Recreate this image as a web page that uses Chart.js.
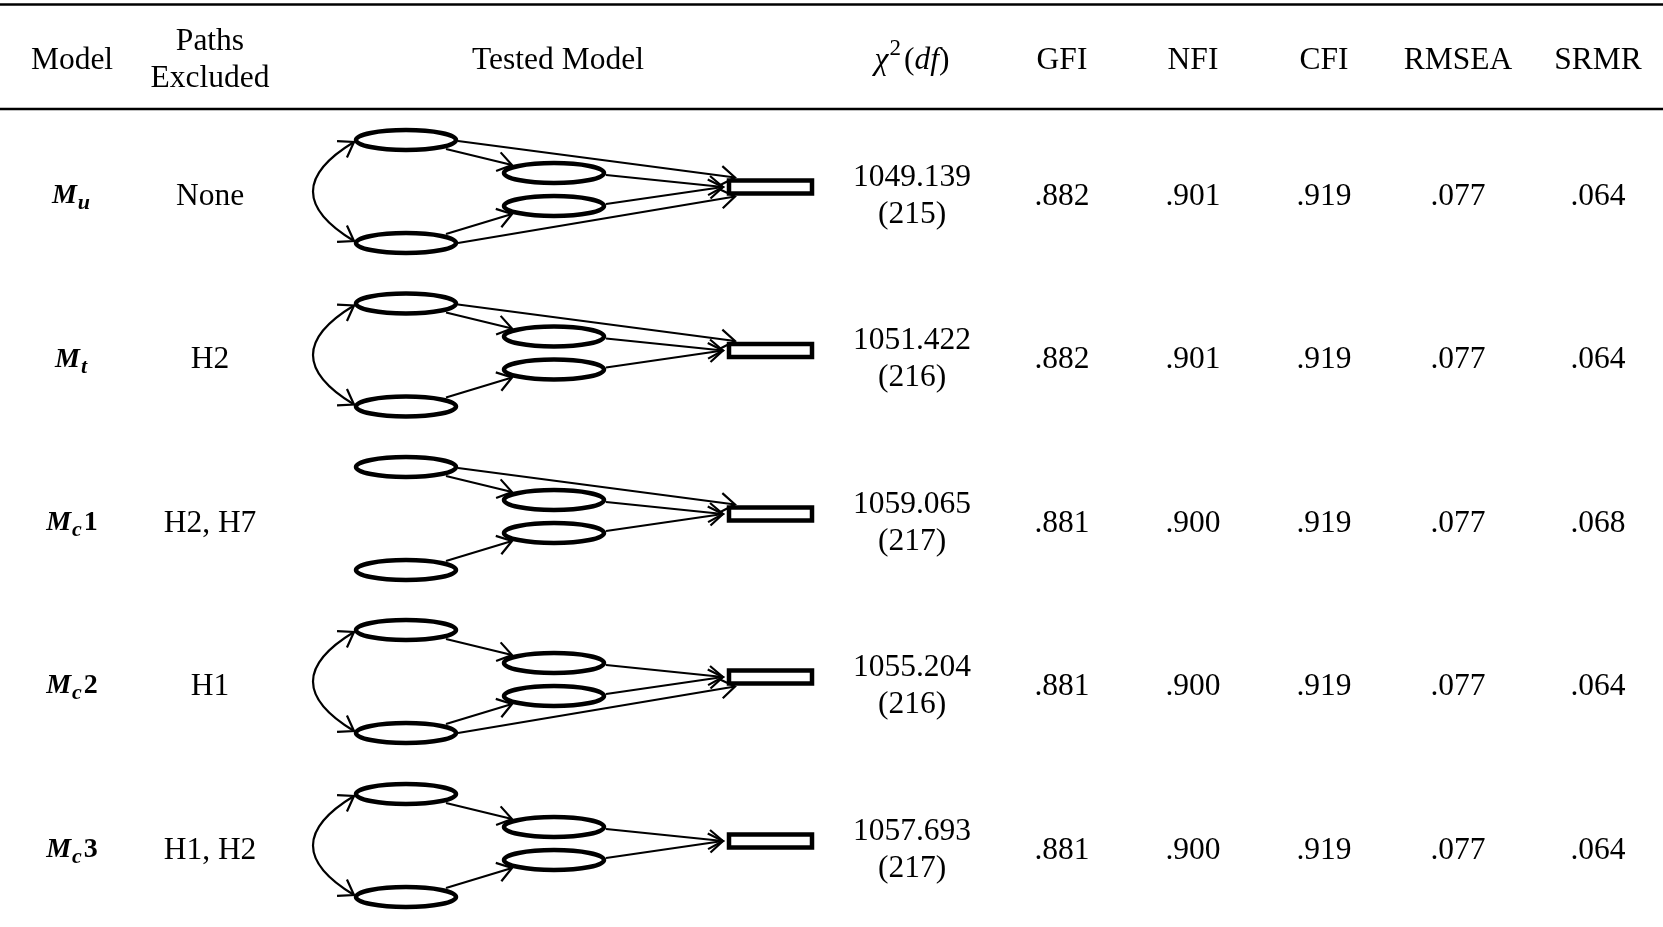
<!DOCTYPE html>
<html>
<head>
<meta charset="utf-8">
<script src="https://cdn.jsdelivr.net/npm/chart.js@4.4.1/dist/chart.umd.min.js"></script>
<style>
  html, body { margin: 0; padding: 0; background: #fff; }
  #wrap { width: 1663px; height: 927px; }
</style>
</head>
<body>
<div id="wrap"><canvas id="fitTable" width="1663" height="927"></canvas></div>
<script>
// table data
const modelSub = ["u", "t", "c", "c", "c"];
const modelNum = ["", "", "1", "2", "3"];
const pathsExcluded = ["None", "H2", "H2, H7", "H1", "H1, H2"];
const chiSq = ["1049.139", "1051.422", "1059.065", "1055.204", "1057.693"];
const dfs = ["215", "216", "217", "216", "217"];
const gfi = [".882", ".882", ".881", ".881", ".881"];
const nfi = [".901", ".901", ".900", ".900", ".900"];
const cfi = [".919", ".919", ".919", ".919", ".919"];
const rmsea = [".077", ".077", ".077", ".077", ".077"];
const srmr = [".064", ".064", ".068", ".064", ".064"];
const fitCols = ["GFI", "NFI", "CFI", "RMSEA", "SRMR"];

// tested model paths (A, B = left latents, C, D = mediators, Y = outcome)
const modelPaths = [
  { from: "A", to: "C" },
  { from: "B", to: "D" },
  { from: "C", to: "Y" },
  { from: "D", to: "Y" },
  { from: "A", to: "Y", hyp: "H1" },
  { from: "B", to: "Y", hyp: "H2" },
  { from: "A", to: "B", hyp: "H7", cov: true },
];

// layout (x/y in chart units)
const colX = { model: 72, paths: 210, tested: 558, chi: 912, GFI: 1062, NFI: 1193, CFI: 1324, RMSEA: 1458, SRMR: 1598 };
const rowY = [194, 357.5, 521, 684, 848];
const nodePos = { A: [406, -54], B: [406, 49], C: [554, -21], D: [554, 12] };
const FONT = "'Liberation Serif', 'Times New Roman', serif";
const FS = 31.5;

function arrowHead(ctx, tx, ty, fx, fy) {
  const a = Math.atan2(ty - fy, tx - fx);
  const len = 17, ang = 0.6;
  ctx.beginPath();
  ctx.moveTo(tx - len * Math.cos(a - ang), ty - len * Math.sin(a - ang));
  ctx.lineTo(tx, ty);
  ctx.lineTo(tx - len * Math.cos(a + ang), ty - len * Math.sin(a + ang));
  ctx.stroke();
}

function line(ctx, x1, y1, x2, y2) {
  ctx.beginPath();
  ctx.moveTo(x1, y1);
  ctx.lineTo(x2, y2);
  ctx.stroke();
}

const tablePlugin = {
  id: "tablePlugin",
  afterDraw(chart) {
    const ctx = chart.ctx;
    const X = (v) => chart.scales.x.getPixelForValue(v);
    const Y = (v) => chart.scales.y.getPixelForValue(v);
    ctx.save();
    ctx.fillStyle = "#000";
    ctx.strokeStyle = "#000";

    // rules
    ctx.lineWidth = 2.5;
    line(ctx, X(0), Y(4.5), X(1663), Y(4.5));
    line(ctx, X(0), Y(109), X(1663), Y(109));

    // header
    ctx.textAlign = "center";
    ctx.textBaseline = "alphabetic";
    ctx.font = FS + "px " + FONT;
    ctx.fillText("Model", X(colX.model), Y(69));
    ctx.fillText("Paths", X(colX.paths), Y(50));
    ctx.fillText("Excluded", X(colX.paths), Y(87));
    ctx.fillText("Tested Model", X(colX.tested), Y(69));
    fitCols.forEach((c) => ctx.fillText(c, X(colX[c]), Y(69)));

    // chi-square header with italic parts
    const parts = [
      { t: "\u03c7", f: "italic " + FS + "px " + FONT, dy: 0 },
      { t: "2", f: "23px " + FONT, dy: -14 },
      { t: "(", f: FS + "px " + FONT, dy: 0 },
      { t: "df", f: "italic " + FS + "px " + FONT, dy: 0 },
      { t: ")", f: FS + "px " + FONT, dy: 0 },
    ];
    let w = 0;
    parts.forEach((p) => { ctx.font = p.f; p.w = ctx.measureText(p.t).width; w += p.w + (p.t === "(" ? 3 : 0) + (p.t === "2" ? 1 : 0); });
    let px = X(colX.chi) - w / 2;
    ctx.textAlign = "left";
    parts.forEach((p) => {
      if (p.t === "(") px += 3;
      if (p.t === "2") px += 1;
      ctx.font = p.f;
      ctx.fillText(p.t, px, Y(69 + p.dy));
      px += p.w;
    });

    rowY.forEach((ry, i) => {
      // model label: bold italic M with subscript
      const mFont = "bold italic 28px " + FONT;
      const sFont = "bold italic 22px " + FONT;
      const nFont = "bold 28px " + FONT;
      ctx.font = mFont; const wM = ctx.measureText("M").width;
      ctx.font = sFont; const wS = ctx.measureText(modelSub[i]).width;
      ctx.font = nFont; const wN = ctx.measureText(modelNum[i]).width;
      let lx = X(colX.model) - (wM + wS + wN + 3) / 2;
      ctx.textAlign = "left";
      ctx.font = mFont; ctx.fillText("M", lx, Y(ry + 9)); lx += wM + 1;
      ctx.font = sFont; ctx.fillText(modelSub[i], lx, Y(ry + 15)); lx += wS + 2;
      ctx.font = nFont; ctx.fillText(modelNum[i], lx, Y(ry + 9));

      // text columns
      ctx.textAlign = "center";
      ctx.font = FS + "px " + FONT;
      ctx.fillText(pathsExcluded[i], X(colX.paths), Y(ry + 10.5));
      ctx.fillText(chiSq[i], X(colX.chi), Y(ry - 8.5));
      ctx.fillText("(" + dfs[i] + ")", X(colX.chi), Y(ry + 28.5));
      ctx.fillText(gfi[i], X(colX.GFI), Y(ry + 10.5));
      ctx.fillText(nfi[i], X(colX.NFI), Y(ry + 10.5));
      ctx.fillText(cfi[i], X(colX.CFI), Y(ry + 10.5));
      ctx.fillText(rmsea[i], X(colX.RMSEA), Y(ry + 10.5));
      ctx.fillText(srmr[i], X(colX.SRMR), Y(ry + 10.5));

      // diagram
      const excl = pathsExcluded[i].split(",").map((s) => s.trim());
      const P = {};
      Object.keys(nodePos).forEach((k) => { P[k] = { x: X(nodePos[k][0]), y: Y(ry + nodePos[k][1]) }; });
      const rL = X(729), rR = X(812), rT = Y(ry - 7 - 6.5), rB = Y(ry - 7 + 6.5), rC = Y(ry - 7);

      ctx.lineWidth = 2.2;
      modelPaths.forEach((p) => {
        if (p.hyp && excl.includes(p.hyp)) return;
        const a = P[p.from];
        let sx, sy, ex, ey;
        if (p.cov) {
          const b = P[p.to];
          const x0 = a.x - 52, y0 = a.y + 2, x2 = b.x - 52, y2 = b.y - 2;
          const cx = x0 - 82, cy = (y0 + y2) / 2;
          ctx.beginPath();
          ctx.moveTo(x0, y0);
          ctx.quadraticCurveTo(cx, cy, x2, y2);
          ctx.stroke();
          arrowHead(ctx, x0, y0, cx, cy);
          arrowHead(ctx, x2, y2, cx, cy);
          return;
        }
        if (p.to === "Y") {
          sx = a.x + 52;
          if (p.from === "A") { sy = a.y + 1; ex = rL + 6; ey = rT - 3; }
          else if (p.from === "B") { sy = a.y; ex = rL + 6; ey = rB + 3; }
          else if (p.from === "C") { sy = a.y + 2; ex = rL - 6; ey = rC; }
          else { sy = a.y - 2; ex = rL - 6; ey = rC; }
        } else {
          const b = P[p.to];
          sx = a.x + 40;
          sy = p.from === "A" ? a.y + 9 : a.y - 9;
          ex = b.x - 42;
          ey = p.from === "A" ? b.y - 8 : b.y + 8;
        }
        line(ctx, sx, sy, ex, ey);
        arrowHead(ctx, ex, ey, sx, sy);
      });

      // latent ellipses
      ctx.lineWidth = 4.5;
      Object.keys(P).forEach((k) => {
        ctx.beginPath();
        ctx.ellipse(P[k].x, P[k].y, 50, 10, 0, 0, Math.PI * 2);
        ctx.fillStyle = "#fff";
        ctx.fill();
        ctx.stroke();
      });
      // outcome rectangle
      ctx.lineWidth = 4.5;
      ctx.fillStyle = "#fff";
      ctx.fillRect(rL, rT, rR - rL, rB - rT);
      ctx.strokeRect(rL, rT, rR - rL, rB - rT);
      ctx.fillStyle = "#000";
    });
    ctx.restore();
  },
};

new Chart(document.getElementById("fitTable").getContext("2d"), {
  type: "scatter",
  data: { datasets: [{ data: [], pointRadius: 0 }] },
  options: {
    responsive: false,
    animation: false,
    events: [],
    layout: { padding: 0 },
    plugins: { legend: { display: false }, tooltip: { enabled: false } },
    scales: {
      x: { type: "linear", min: 0, max: 1663, display: false },
      y: { type: "linear", min: 0, max: 927, reverse: true, display: false },
    },
  },
  plugins: [tablePlugin],
});
</script>
</body>
</html>
